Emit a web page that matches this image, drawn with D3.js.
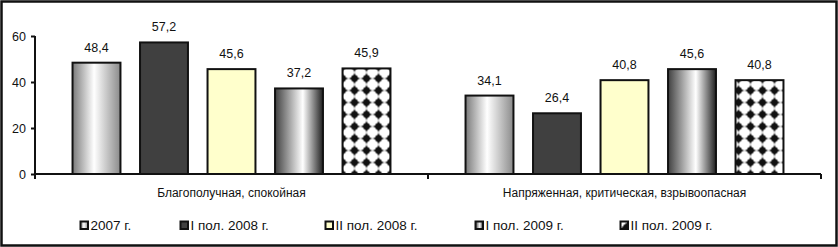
<!DOCTYPE html>
<html>
<head>
<meta charset="utf-8">
<script src="https://cdn.jsdelivr.net/npm/d3@7/dist/d3.min.js"></script>
<style>
  body { margin: 0; background: #fff; }
  svg text { font-family: "Liberation Sans", Arial, sans-serif; fill: #111; }
</style>
</head>
<body>
<svg id="chart"></svg>
<script>
// Datos
var categories = ['Благополучная, спокойная', 'Напряженная, критическая, взрывоопасная'];
var series = ['2007 г.', 'I пол. 2008 г.', 'II пол. 2008 г.', 'I пол. 2009 г.', 'II пол. 2009 г.'];
var v2007 = [48.4, 34.1],
    v2008a = [57.2, 26.4],
    v2008b = [45.6, 40.8],
    v2009a = [37.2, 45.6],
    v2009b = [45.9, 40.8];
var yTicks = [0, 20, 40, 60];

var values = [v2007, v2008a, v2008b, v2009a, v2009b];

// Ajustes del canvas
var w = 838,
    h = 247;
var fills = ['url(#grad1)', '#404040', '#ffffcc', 'url(#grad4)', 'url(#diam)'];
var legendX = [80, 180, 325, 475, 620];

var svg = d3.select('#chart')
    .attr('width', w)
    .attr('height', h);

var defs = svg.append('defs');

var g1 = defs.append('linearGradient').attr('id', 'grad1');
g1.append('stop').attr('offset', '0%').attr('stop-color', '#7a7a7a');
g1.append('stop').attr('offset', '45%').attr('stop-color', '#ffffff');
g1.append('stop').attr('offset', '100%').attr('stop-color', '#8a8a8a');

var g4 = defs.append('linearGradient').attr('id', 'grad4');
g4.append('stop').attr('offset', '0%').attr('stop-color', '#404040');
g4.append('stop').attr('offset', '58%').attr('stop-color', '#ffffff');
g4.append('stop').attr('offset', '100%').attr('stop-color', '#202020');

var pat = defs.append('pattern')
    .attr('id', 'diam')
    .attr('patternUnits', 'userSpaceOnUse')
    .attr('width', 12)
    .attr('height', 12)
    .attr('x', 0.5)
    .attr('y', 0.5);
pat.append('rect').attr('width', 12).attr('height', 12).attr('fill', '#fff');
pat.append('path')
    .attr('d', 'M6,0 Q7,5 12,6 Q7,7 6,12 Q5,7 0,6 Q5,5 6,0 Z')
    .attr('fill', '#111');
pat.append('circle').attr('cx', 6).attr('cy', 6).attr('r', 3.4).attr('fill', '#111');

var x0 = d3.scaleBand()
    .domain(categories)
    .range([35, 821]);
var x1 = d3.scaleBand()
    .domain(d3.range(series.length))
    .range([0, x0.bandwidth()])
    .paddingInner(0.29)
    .paddingOuter(0.556);
var y = d3.scaleLinear()
    .domain([0, 60])
    .range([174, 36]);

var fmt = function(d) {
    return d3.format('.1f')(d).replace('.', ',');
};

// marco
svg.append('rect')
    .attr('x', 1.5).attr('y', 1.5)
    .attr('width', w - 3).attr('height', h - 3)
    .attr('fill', 'none')
    .attr('stroke', '#111')
    .attr('stroke-width', 2.5);

// Ajustes de las barras
var groups = svg.selectAll('g.serie')
    .data(values)
    .enter()
    .append('g')
    .attr('class', 'serie');

groups.selectAll('rect')
    .data(function(d, i) {
        return d.map(function(v, j) { return { v: v, s: i, c: categories[j] }; });
    })
    .enter()
    .append('rect')
    .attr('x', function(d) { return x0(d.c) + x1(d.s); })
    .attr('y', function(d) { return y(d.v); })
    .attr('width', x1.bandwidth())
    .attr('height', function(d) { return y(0) - y(d.v); })
    .attr('fill', function(d) { return fills[d.s]; })
    .attr('stroke', '#111')
    .attr('stroke-width', 2);

groups.selectAll('text')
    .data(function(d, i) {
        return d.map(function(v, j) { return { v: v, s: i, c: categories[j] }; });
    })
    .enter()
    .append('text')
    .text(function(d) { return fmt(d.v); })
    .attr('x', function(d) { return x0(d.c) + x1(d.s) + x1.bandwidth() / 2; })
    .attr('y', function(d) { return y(d.v) - 11; })
    .attr('text-anchor', 'middle')
    .style('font-size', '12.5px');

// Eje Y
var yAxis = svg.append('g')
    .attr('transform', 'translate(35,0)')
    .call(d3.axisLeft(y).tickValues(yTicks).tickSize(4).tickSizeOuter(0).tickPadding(5));
yAxis.selectAll('path, line').attr('stroke', '#111').attr('stroke-width', 2);
yAxis.selectAll('text').style('font-size', '12.5px').attr('fill', '#111');
yAxis.select('path').attr('d', 'M0,' + y(60) + 'V' + y(0));

// Eje X
svg.append('line')
    .attr('x1', x0.range()[0]).attr('x2', x0.range()[1])
    .attr('y1', y(0)).attr('y2', y(0))
    .attr('stroke', '#111').attr('stroke-width', 2);
var edges = categories.map(function(c) { return x0(c); }).concat([x0.range()[1]]);
svg.selectAll('line.xtick')
    .data(edges)
    .enter()
    .append('line')
    .attr('class', 'xtick')
    .attr('x1', function(d) { return d; }).attr('x2', function(d) { return d; })
    .attr('y1', y(0)).attr('y2', y(0) + 5)
    .attr('stroke', '#111').attr('stroke-width', 2);

svg.selectAll('text.cat')
    .data(categories)
    .enter()
    .append('text')
    .attr('class', 'cat')
    .text(function(d) { return d; })
    .attr('x', function(d) { return x0(d) + x0.bandwidth() / 2; })
    .attr('y', 197)
    .attr('text-anchor', 'middle')
    .style('font-size', '12px');

// Leyenda
var leg = svg.selectAll('g.leg')
    .data(series)
    .enter()
    .append('g')
    .attr('class', 'leg')
    .attr('transform', function(d, i) { return 'translate(' + legendX[i] + ',221)'; });

leg.append('rect')
    .attr('x', 0.5).attr('y', 0.5)
    .attr('width', 7.5).attr('height', 7.5)
    .attr('fill', function(d, i) { return fills[i]; })
    .attr('stroke', '#111')
    .attr('stroke-width', 2);

leg.append('text')
    .text(function(d) { return d; })
    .attr('x', 10.5)
    .attr('y', 9)
    .style('font-size', '13.5px');
</script>
</body>
</html>
